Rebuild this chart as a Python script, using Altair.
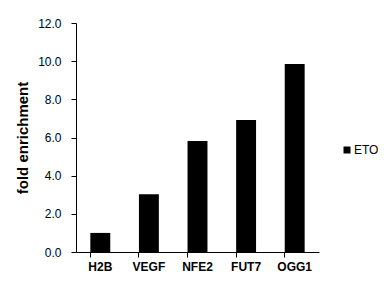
import altair as alt
import pandas as pd

genes = ["H2B", "VEGF", "NFE2", "FUT7", "OGG1"]
fold = [1.0, 3.02, 5.82, 6.92, 9.85]
series = ["ETO"] * 5

df = pd.DataFrame({"gene": genes, "fold": fold, "series": series})

FONT = "Liberation Sans"

chart = alt.Chart(df).mark_bar(color="black").encode(
    x=alt.X("gene:N", sort=genes, title=None,
            scale=alt.Scale(paddingInner=0.59, paddingOuter=0.295),
            axis=alt.Axis(labelAngle=0, labelFont=FONT, labelFontSize=12,
                          labelFontWeight="bold", labelColor="black",
                          domainColor="black", tickColor="black",
                          tickSize=5, labelPadding=4, bandPosition=0,
                          grid=False)),
    y=alt.Y("fold:Q", title="fold enrichment",
            scale=alt.Scale(domain=[0, 12], nice=False),
            axis=alt.Axis(values=[0, 2, 4, 6, 8, 10, 12], format=".1f",
                          labelFont=FONT, labelFontSize=12, labelColor="black",
                          titleFont=FONT, titleFontSize=15, titleFontWeight="bold",
                          titleColor="black", titlePadding=7,
                          domainColor="black", tickColor="black", tickSize=5,
                          labelPadding=10, grid=False)),
    color=alt.Color("series:N", scale=alt.Scale(range=["black"]),
                    legend=alt.Legend(title=None, orient="none", legendX=265, legendY=121,
                                      symbolType="square", symbolSize=49,
                                      symbolStrokeWidth=0,
                                      labelFont=FONT, labelFontSize=12,
                                      labelColor="black", labelOffset=1)),
).properties(
    width=243, height=229,
    autosize=alt.AutoSizeParams(type="none"),
    padding={"left": 76, "top": 23, "right": 65, "bottom": 48},
    background="white",
).configure_view(stroke=None)

chart.save("out.html", embed_options={"renderer": "svg", "actions": False})
